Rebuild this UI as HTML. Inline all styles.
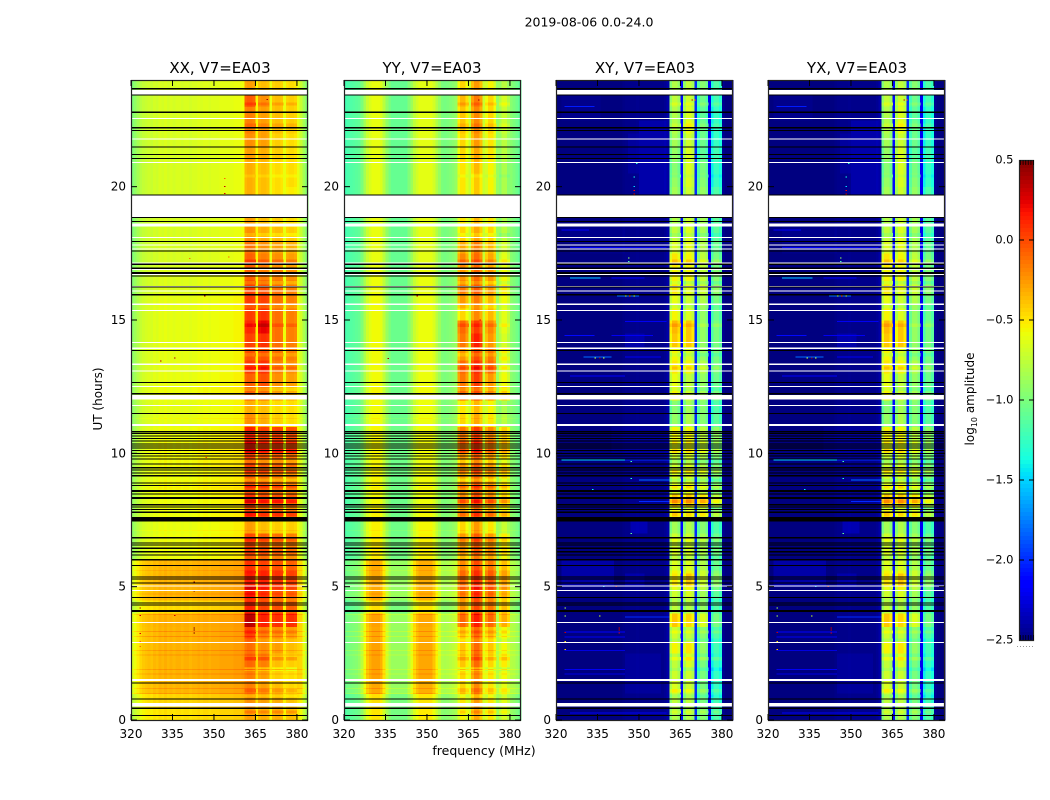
<!DOCTYPE html>
<html lang="en">
<head>
<meta charset="utf-8">
<title>2019-08-06 0.0-24.0</title>
<style>
html,body{margin:0;padding:0;background:#fff;}
svg{display:block;}
text{font-family:"DejaVu Sans","Liberation Sans",sans-serif;fill:#000;}
</style>
</head>
<body>
<svg id="figure" xmlns="http://www.w3.org/2000/svg" width="1050" height="800" viewBox="0 0 1050 800">
  <text x="589" y="26.5" font-size="12.5" text-anchor="middle">2019-08-06 0.0-24.0</text>
  <text x="220" y="73" font-size="15" text-anchor="middle">XX, V7=EA03</text>
  <text x="432" y="73" font-size="15" text-anchor="middle">YY, V7=EA03</text>
  <text x="645" y="73" font-size="15" text-anchor="middle">XY, V7=EA03</text>
  <text x="857" y="73" font-size="15" text-anchor="middle">YX, V7=EA03</text>
  <text x="484" y="755" font-size="12.5" text-anchor="middle">frequency (MHz)</text>
  <text x="102" y="399" font-size="12" text-anchor="middle" transform="rotate(-90 102 399)">UT (hours)</text>
  <text x="974" y="399" font-size="12" text-anchor="middle" transform="rotate(-90 974 399)">log<tspan font-size="8" dy="3">10</tspan><tspan dy="-3"> amplitude</tspan></text>
  <g id="panels"></g>
  <g id="colorbar"></g>
</svg>
<script>
// ---- axis ticks ----
const freqTicks = [320, 335, 350, 365, 380];
const utTicks = [0, 5, 10, 15, 20];
const colorTicks = [0.5, 0.0, -0.5, -1.0, -1.5, -2.0, -2.5];

// ---- channels (MHz, one per column) and time segments (half hours) ----
const freqStart = 320;
const freqEnd = 384;
const utSegmentHours = 0.5;
const subbandStarts = [361, 366, 371, 376];

// ---- base amplitude spectra, log10, channels 320..383 (sub-band channels hold 0) ----
const xxBase = [-.98,-.92,-.85,-.78,-.74,-.72,-.7,-.72,-.68,-.7,-.66,-.68,-.65,-.68,-.66,-.68,-.66,-.66,-.68,-.66,-.66,-.68,-.66,-.66,-.64,-.66,-.64,-.64,-.66,-.64,-.64,-.64,-.62,-.62,-.62,-.62,-.62,-.6,-.6,-.6,-.58,0,0,0,0,-.55,0,0,0,0,-.6,0,0,0,0,-.6,0,0,0,0,-.6,-.72,-.85,-.95];
const yyBase = [-1.2,-1.18,-1.16,-1.14,-1.12,-1.1,-1.0,-.85,-.72,-.65,-.6,-.6,-.6,-.65,-.78,-.92,-1.02,-1.08,-1.08,-1.08,-1.08,-1.08,-1.08,-.98,-.88,-.75,-.68,-.62,-.62,-.62,-.62,-.62,-.68,-.8,-.9,-1.0,-1.02,-1.0,-.98,-.95,-.9,0,0,0,0,-.72,0,0,0,0,-.72,0,0,0,0,-.9,0,0,0,0,-.95,-1.0,-1.05,-1.1];
const xyBase = [-2.5,-2.5,-2.5,-2.5,-2.5,-2.5,-2.5,-2.5,-2.5,-2.5,-2.5,-2.5,-2.5,-2.5,-2.5,-2.5,-2.5,-2.5,-2.5,-2.5,-2.5,-2.5,-2.5,-2.5,-2.48,-2.47,-2.47,-2.47,-2.47,-2.46,-2.47,-2.47,-2.47,-2.47,-2.47,-2.47,-2.47,-2.47,-2.47,-2.45,-2.4,0,0,0,0,-2.1,0,0,0,0,-2.0,0,0,0,0,-2.2,0,0,0,0,-2.45,-2.5,-2.5,-2.5];

// ---- how strongly each channel follows the slow drift ----
const xxDriftShape = [1,1,1,1,1,1,1,1,1,1,1,1,1,1,1,1,1,1,1,1,1,1,1,1,1,1,1,1,1,1,1,1,1,1,1,1,1,1,1,1,1,1,1,1,1,.3,1,1,1,1,.3,1,1,1,1,.3,1,1,1,1,.5,.8,.7,.6];
const yyDriftShape = [.5,.5,.5,.5,.5,.6,.7,.85,1,1,1,1,1,1,.9,.7,.6,.6,.6,.6,.6,.6,.6,.7,.8,.9,1,1,1,1,1,1,.9,.8,.7,.6,.6,.6,.6,.6,.6,1,1,1,1,.3,1,1,1,1,.3,1,1,1,1,.3,1,1,1,1,.5,.6,.6,.6];
const xyDriftShape = [0,0,0,0,0,0,0,0,0,0,0,0,0,0,0,0,0,0,0,0,0,0,0,0,0,0,0,0,0,0,0,0,0,0,0,0,0,0,0,0,0,0,0,0,0,0,0,0,0,0,0,0,0,0,0,0,0,0,0,0,0,0,0,0];

// ---- slow drift per half hour, 0h upward ----
const xxDrift = [.18,.22,.32,.33,.33,.33,.33,.34,.2,.33,.33,.32,.08,.08,.06,.08,.08,.1,.08,.1,.1,.08,.05,.05,.08,.06,.05,.05,.05,.05,.05,.05,.02,.02,0,0,0,0,0,0,0,0,0,0,0,0,0,0];
const yyDrift = [.1,.12,.3,.32,.32,.32,.3,.32,.12,.3,.3,.3,.08,.08,.06,.06,.04,.05,.05,.05,.05,.05,.03,.03,.05,.03,.03,.03,.03,.03,.03,.03,.02,.02,0,0,0,0,0,0,0,0,0,0,0,0,0,0];
const xyDrift = [0,0,0,0,0,0,0,0,0,0,0,0,0,0,0,0,0,0,0,0,0,0,0,0,0,0,0,0,0,0,0,0,0,0,0,0,0,0,0,0,0,0,0,0,0,0,0,0];

// ---- sub-band levels per half hour, 0h upward ----
const xxBand1 = [-.3,-.25,-.2,-.2,-.12,-.15,0,.32,.1,.15,.12,.05,0,-.02,-.3,0,.05,-.05,-.1,0,.1,.1,-.25,-.35,-.1,-.1,.02,-.05,0,.08,.02,.02,0,-.1,-.1,-.15,-.25,-.3,-.3,-.35,-.35,-.35,-.3,-.25,-.2,-.2,-.08,-.3];
const xxBand2 = [-.35,-.3,-.3,-.3,-.2,-.25,-.2,.1,0,.05,.1,0,-.05,-.1,-.4,-.1,-.05,-.1,-.15,-.1,0,0,-.35,-.4,-.15,-.05,.05,-.05,.05,.2,.05,0,-.05,-.2,-.2,-.25,-.35,-.4,-.4,-.4,-.4,-.4,-.35,-.3,-.3,-.3,-.25,-.4];
const xxBand3 = [-.35,-.35,-.4,-.45,-.4,-.3,-.25,.05,-.05,-.05,.05,-.05,-.1,-.15,-.45,-.1,-.05,-.15,-.2,-.1,0,0,-.45,-.5,-.3,-.25,-.2,-.15,-.15,-.15,-.15,-.15,-.15,-.2,-.25,-.3,-.4,-.45,-.45,-.5,-.5,-.5,-.45,-.45,-.4,-.4,-.4,-.45];
const xxBand4 = [-.4,-.42,-.48,-.5,-.45,-.4,-.3,.05,-.1,-.1,0,-.1,-.15,-.2,-.45,-.15,-.1,-.2,-.25,-.15,-.05,-.05,-.5,-.5,-.35,-.3,-.25,-.2,-.2,-.2,-.2,-.2,-.2,-.25,-.3,-.35,-.45,-.5,-.5,-.55,-.5,-.5,-.5,-.5,-.45,-.45,-.45,-.5];
const yyBand1 = [-.58,-.53,-.48,-.48,-.43,-.43,-.43,-.13,-.28,-.18,-.13,-.23,-.28,-.28,-.48,-.28,-.23,-.28,-.33,-.28,-.18,-.18,-.48,-.53,-.13,-.18,-.13,-.28,-.18,-.13,-.48,-.28,-.18,-.28,-.23,-.33,-.48,-.53,-.53,-.53,-.53,-.53,-.48,-.48,-.43,-.43,-.38,-.48];
const yyBand2 = [-.33,-.28,-.23,-.23,-.13,-.13,-.13,.12,-.03,.07,.07,-.03,-.08,-.08,-.28,-.08,-.03,-.08,-.13,-.08,.02,.02,-.33,-.38,-.03,.02,.07,-.03,.12,.02,-.23,-.18,-.08,-.13,-.13,-.18,-.33,-.38,-.38,-.43,-.43,-.38,-.33,-.28,-.23,-.23,-.18,-.28];
const yyBand3 = [-.53,-.53,-.53,-.53,-.48,-.43,-.38,-.13,-.18,-.13,-.08,-.18,-.23,-.28,-.53,-.28,-.23,-.28,-.33,-.28,-.23,-.23,-.53,-.58,-.23,-.28,-.13,-.18,-.28,-.23,-.38,-.38,-.28,-.28,-.33,-.38,-.48,-.53,-.53,-.58,-.58,-.58,-.53,-.53,-.48,-.48,-.48,-.58];
const yyBand4 = [-.7,-.65,-.65,-.6,-.55,-.6,-.6,-.35,-.4,-.35,-.3,-.4,-.5,-.55,-.75,-.5,-.45,-.5,-.5,-.5,-.45,-.45,-.8,-.85,-.45,-.6,-.65,-.55,-.7,-.65,-.65,-.6,-.55,-.6,-.65,-.7,-.8,-.85,-.85,-.85,-.85,-.85,-.8,-.8,-.75,-.75,-.7,-.8];
const xyBand1 = [-.85,-.8,-.7,-.75,-.8,-.6,-.75,-.45,-.8,-.75,-.55,-.7,-.7,-.75,-.9,-.6,-.45,-.7,-.7,-.75,-.65,-.6,-.95,-1,-.6,-.65,-.55,-.6,-.45,-.4,-.6,-.65,-.55,-.6,-.55,-.7,-.8,-.85,-.85,-.9,-.95,-1,-.95,-.9,-.85,-.85,-.8,-.85];
const xyBand2 = [-.85,-.8,-.75,-.75,-.7,-.55,-.8,-.5,-.85,-.7,-.45,-.7,-.7,-.75,-.85,-.65,-.45,-.65,-.7,-.7,-.65,-.6,-.85,-.9,-.75,-.8,-.6,-.7,-.45,-.45,-.7,-.75,-.65,-.6,-.6,-.65,-.7,-.75,-.75,-.75,-.7,-.7,-.7,-.75,-.65,-.7,-.75,-.8];
const xyBand3 = [-1,-1.05,-1.05,-1.05,-1.05,-.95,-1,-.7,-.95,-.9,-.75,-.85,-.85,-.9,-1,-.7,-.55,-.8,-.8,-.85,-.8,-.8,-1,-1,-.9,-.95,-.85,-.95,-.95,-.95,-.95,-.85,-.75,-.8,-.8,-.85,-.9,-.9,-.9,-.95,-1,-1.05,-1.15,-1.1,-1.1,-1.15,-1.1,-1];
const xyBand4 = [-1.2,-1.25,-1.3,-1.3,-1.3,-1.25,-1.2,-1.05,-1.2,-1.15,-.95,-1.1,-1.05,-1.1,-1.2,-.95,-.8,-1,-1,-1,-1,-.95,-1.15,-1.2,-1.05,-1.1,-1.05,-1.05,-1.05,-1.05,-1.1,-1.05,-.95,-1,-1.05,-1.1,-1.15,-1.15,-1.15,-1.2,-1.3,-1.3,-1.25,-1.3,-1.3,-1.3,-1.25,-1.2];

// ---- roll-off across the four channels of a sub-band ----
const xxBandEdge = [0,.03,.03,0];
const yyBandEdge = [-.1,.03,.03,-.1];
const xyBandEdge = [-.12,.05,.05,-.06];

// ---- brighter/dimmer integrations: UT hour, change in log10 amplitude ----
const autoRowUT = [3.31,3.14,2.61,2.43,1.9,1.72,1.19,1.0,4.72,3.95,5.6,11.3,9.15,8.7,7.1];
const autoRowDelta = [.12,.12,.1,.1,.1,.1,.1,.1,.08,.1,.06,.06,.08,.06,.05];

// ---- sub-band stripes: UT hour, change in log10 amplitude ----
const bandStripeUT = [10.4,10.1,9.7,9.3,9.0,8.75,8.2,7.95,7.7,6.75,6.1,5.55,4.95,4.5,3.3,3.0,2.3,1.9,1.1,.9,.3,12.4,13.2,13.7,14.8,15.5,16.4,17.2,18.2,20.4,22.3,23.1];
const bandStripeDelta = [.1,.15,-.15,.15,-.15,.15,.2,-.1,.15,.1,-.1,.1,.1,-.1,.12,-.1,.15,-.12,.12,-.1,.12,-.12,.12,-.1,.1,-.08,-.15,.12,-.1,-.06,.08,.1];

// ---- diffuse cross-hand patches: UT from, UT to, MHz from, MHz to, change ----
const xyPatches = [
  [19.7,22.6,350,360,.08],[20.5,22,346,350,.05],[22.6,23.4,322,336,.03],[13.9,14.4,345,352,.08],
  [4.9,5.95,322,341,.1],[4.9,5.5,345,352,.08],[6.9,7.3,347,353,.1],[0.9,2.6,345,358,.04],
  [10.2,11,340,360,.04],[17.5,18.4,325,345,.03]
];

// ---- narrow cross-hand streaks: UT, MHz from, MHz to, log10 amplitude ----
const xyStreaks = [
  [9.75,322,345,-1.5],[9.75,345,361,-2.0],[17.72,325,360,-2.2],[16.57,325,336,-1.5],[16.57,340,352,-2.15],
  [13.62,330,340,-1.8],[13.62,345,358,-2.2],[15.9,342,350,-1.8],[8.2,350,361,-2.0],[9.0,350,361,-1.8],
  [3.87,345,361,-2.0],[3.3,323,345,-2.15],[3.12,323,345,-2.2],[2.6,323,345,-2.25],[1.9,323,345,-2.2],
  [1.72,323,345,-2.25],[14.42,323,334,-2.1],[14.42,340,355,-2.2],[14.95,345,360,-2.2],[12.9,325,345,-2.15],
  [16.9,345,361,-2.1],[23.0,323,334,-2.05],[18.38,322,332,-2.15],[0.27,325,360,-2.2],[0.6,322,345,-2.25]
];

// ---- isolated bright samples: UT, MHz, log10 amplitude ----
const xxSpecks = [
  [23.27,369,.4],[20,353.7,.3],[19.75,353.7,.25],[20.3,353.7,-.1],[13.46,330.5,.35],[13.57,335.6,.35],
  [15.9,346.4,.45],[17.3,341,-.15],[17.36,355,-.1],[4.2,323,.3],[4.08,323,.3],[3.92,323,.3],[3.92,335.6,.3],
  [3.45,342.6,.5],[3.37,342.6,.5],[3.26,342.6,.5],[3.25,323,.25],[2.95,323,-.1],[2.75,323,-.1],[4.83,342.6,.5],[5.17,342.6,.5],
  [9.85,347,.0],[7.55,347,.0]
];
const yySpecks = [[23.25,368.5,.4],[15.9,346.3,.3],[13.56,335.7,.4],[15.0,369,.2]];
const xySpecks = [
  [23.25,369,.3],[23.25,370,0],[20.86,349,-1.3],[20.36,348,-1.4],[20,348,-1.5],[19.85,348,.2],[19.72,348,.3],
  [17.32,346,-.9],[17.2,346,-1.2],[13.57,335.5,.4],[13.57,334,-.7],[13.57,337,-.7],[15.9,346.4,.0],[15.9,345,-.8],[15.9,348,-.8],
  [9.7,347,-1.2],[9.05,347,-1.3],[8.65,333,-1.4],[7.6,347,-1.3],[7,347,-1.1],[5,337,-1.5],[5,341.5,.3],
  [4.2,323,-.8],[4.07,323,-.7],[3.9,323,-.8],[3.9,335.5,-.7],[3.28,323,.3],[3.45,342.6,.3],[3.37,342.6,.3],[3.26,342.6,.3],[2.95,323,-.5],[2.65,323,-.4]
];

// ---- flagged integrations: UT centre, duration in hours (black) ----
const blackFlags = [
  [23.67,.06],[23.43,.04],[22.79,.04],[22.21,.04],[22.11,.04],[21.48,.04],[21.21,.04],[21.06,.04],[19.69,.04],[18.85,.04],[18.69,.04],
  [17.95,.04],[17.58,.04],[17.09,.04],[16.94,.04],[16.76,.08],[16.65,.04],[16.23,.04],[15.94,.06],[13.86,.04],[12.66,.04],[12.23,.06],[11.49,.04],
  [10.81,.04],[10.74,.04],[10.65,.04],[10.55,.04],[10.47,.04],[10.35,.04],[10.28,.04],[10.2,.04],[10.11,.04],[10,.04],[9.9,.04],[9.79,.04],
  [9.6,.04],[9.46,.05],[9.38,.04],[9.27,.04],[9.16,.04],[8.88,.04],[8.79,.04],[8.59,.07],[8.48,.04],[8.35,.04],[8.31,.04],[8.07,.05],[7.99,.04],[7.9,.04],[7.79,.04],
  [7.53,.175],[6.84,.05],[6.64,.04],[6.57,.04],[6.44,.04],[6.31,.04],[6.19,.04],[6.01,.07],[5.8,.04],[5.37,.04],[5.28,.04],[5.14,.04],
  [4.6,.04],[4.39,.04],[4.32,.04],[4.09,.07],[1.38,.04],[.78,.04],[.44,.04],[.17,.04]
];

// ---- gaps without data: UT from, UT to (white) ----
const whiteGaps = [
  [23.44,23.625],[22.54,22.58],[21.76,21.8],[20.89,20.93],[18.86,19.68],[18.5,18.62],[18.08,18.12],[17.79,17.83],[17.64,17.68],
  [17.11,17.15],[16.88,16.92],[16.69,16.73],[16.06,16.1],[16.23,16.27],[15.57,15.61],[15.34,15.38],[14.14,14.18],[13.92,13.96],
  [13.32,13.36],[13.06,13.1],[12.49,12.53],[12.01,12.19],[11.78,11.82],[11.03,11.1],[5.01,5.05],[4.84,4.88],[3.64,3.68],[2.89,2.93],
  [1.46,1.54],[.51,.64]
];

// ---- panels ----
const xxBands = [xxBand1, xxBand2, xxBand3, xxBand4];
const yyBands = [yyBand1, yyBand2, yyBand3, yyBand4];
const xyBands = [xyBand1, xyBand2, xyBand3, xyBand4];
const panelSpecs = [
  {key:'xx', left:131, base:xxBase, shape:xxDriftShape, drift:xxDrift, bands:xxBands, edge:xxBandEdge, rows:true, patches:[], streaks:[], specks:xxSpecks},
  {key:'yy', left:344, base:yyBase, shape:yyDriftShape, drift:yyDrift, bands:yyBands, edge:yyBandEdge, rows:true, patches:[], streaks:[], specks:yySpecks},
  {key:'xy', left:556, base:xyBase, shape:xyDriftShape, drift:xyDrift, bands:xyBands, edge:xyBandEdge, rows:false, patches:xyPatches, streaks:xyStreaks, specks:xySpecks},
  {key:'yx', left:768, base:xyBase, shape:xyDriftShape, drift:xyDrift, bands:xyBands, edge:xyBandEdge, rows:false, patches:xyPatches, streaks:xyStreaks, specks:xySpecks}
];

const SVGNS = 'http://www.w3.org/2000/svg';
const plotWidth = 177, plotTop = 80, plotBottom = 720, utMax = 24;
const cbLeft = 1019, cbRight = 1034, cbTop = 160, cbBottom = 640, cbMax = 0.5, cbMin = -2.5;

function yScale(ut){ return plotBottom - (ut / utMax) * (plotBottom - plotTop); }
function xScale(left, mhz){ return left + (mhz - freqStart) / (freqEnd - freqStart) * plotWidth; }
function colorScale(v){ return cbTop + (cbMax - v) / (cbMax - cbMin) * (cbBottom - cbTop); }

function piece(t, pts){
  for (let i = 1; i < pts.length; i++){
    if (t <= pts[i][0]){
      const a = pts[i-1], b = pts[i];
      return a[1] + (b[1]-a[1]) * (t-a[0]) / (b[0]-a[0]);
    }
  }
  return pts[pts.length-1][1];
}
function jet(v){
  const t = Math.max(0, Math.min(1, (v - cbMin) / (cbMax - cbMin)));
  const r = piece(t, [[0,0],[.35,0],[.66,1],[.89,1],[1,.5]]);
  const g = piece(t, [[0,0],[.125,0],[.375,1],[.64,1],[.91,0],[1,0]]);
  const b = piece(t, [[0,.5],[.11,1],[.34,1],[.65,0],[1,0]]);
  return 'rgb(' + Math.round(r*255) + ',' + Math.round(g*255) + ',' + Math.round(b*255) + ')';
}
function shape(tag, attrs, parent){
  const el = document.createElementNS(SVGNS, tag);
  for (const k in attrs) el.setAttribute(k, attrs[k]);
  parent.appendChild(el);
  return el;
}
function cellValue(p, col, seg){
  const mhz = freqStart + col;
  for (let b = 0; b < subbandStarts.length; b++){
    const offset = mhz - subbandStarts[b];
    if (offset >= 0 && offset < p.edge.length){
      return p.bands[b][seg] + p.edge[offset];
    }
  }
  return p.base[col] + p.shape[col] * p.drift[seg];
}
function patchDelta(p, col, ut){
  const mhz = freqStart + col;
  let d = 0;
  for (const q of p.patches){
    if (ut >= q[0] && ut < q[1] && mhz >= q[2] && mhz < q[3]) d += q[4];
  }
  return d;
}

const panelsRoot = document.getElementById('panels');
const colCount = freqEnd - freqStart;
const segCount = Math.round(utMax / utSegmentHours);

for (const p of panelSpecs){
  const g = shape('g', {}, panelsRoot);
  
  
  const heat = shape('g', {'shape-rendering':'crispEdges'}, g);
  
  

  // heatmap cells
  for (let s = 0; s < segCount; s++){
    const ut0 = s * utSegmentHours, ut1 = ut0 + utSegmentHours;
    for (let c = 0; c < colCount; c++){
      const x0 = xScale(p.left, freqStart + c), x1 = xScale(p.left, freqStart + c + 1);
      const v = cellValue(p, c, s) + patchDelta(p, c, ut0 + utSegmentHours / 2);
      const cell = shape('rect', {x:x0.toFixed(2), y:yScale(ut1).toFixed(2), width:(x1-x0+.3).toFixed(2), height:(yScale(ut0)-yScale(ut1)+.3).toFixed(2), fill:jet(v)}, heat);
      
      
    }
  }
  // stripes inside the sub-bands
  bandStripeUT.forEach(function(ut, i){
    const seg = Math.min(segCount - 1, Math.floor(ut / utSegmentHours));
    for (const start of subbandStarts){
      for (let k = 0; k < p.edge.length; k++){
        const c = start - freqStart + k;
        const x0 = xScale(p.left, freqStart + c), x1 = xScale(p.left, freqStart + c + 1);
        const stripe = shape('rect', {x:x0.toFixed(2), y:(yScale(ut)-1.6).toFixed(2), width:(x1-x0+.3).toFixed(2), height:3.2, fill:jet(cellValue(p, c, seg) + bandStripeDelta[i])}, heat);
        
        
      }
    }
  });
  // bright integrations in the parallel hands
  if (p.rows){
    autoRowUT.forEach(function(ut, i){
      const seg = Math.min(segCount - 1, Math.floor(ut / utSegmentHours));
      for (let c = 0; c < colCount; c++){
        const x0 = xScale(p.left, freqStart + c), x1 = xScale(p.left, freqStart + c + 1);
        const line = shape('rect', {x:x0.toFixed(2), y:(yScale(ut)-.5).toFixed(2), width:(x1-x0+.3).toFixed(2), height:1, fill:jet(cellValue(p, c, seg) + autoRowDelta[i])}, heat);
        
        
      }
    });
  }
  // cross-hand streaks
  for (const st of p.streaks){
    const streak = shape('rect', {x:xScale(p.left, st[1]).toFixed(2), y:(yScale(st[0])-.5).toFixed(2), width:(xScale(p.left, st[2])-xScale(p.left, st[1])).toFixed(2), height:1, fill:jet(st[3])}, heat);
    
    
  }
  // specks
  for (const sp of p.specks){
    const speck = shape('rect', {x:xScale(p.left, sp[1]).toFixed(2), y:(yScale(sp[0])-.5).toFixed(2), width:1.5, height:1, fill:jet(sp[2])}, heat);
    
    
  }
  // white gaps, then black flagged rows
  for (const gap of whiteGaps){
    const rect = shape('rect', {x:p.left, y:yScale(gap[1]).toFixed(2), width:plotWidth, height:(yScale(gap[0])-yScale(gap[1])).toFixed(2), fill:'#fff'}, heat);
    
    
  }
  for (const fl of blackFlags){
    const rect = shape('rect', {x:p.left, y:yScale(fl[0]+fl[1]/2).toFixed(2), width:plotWidth, height:Math.max(1, yScale(fl[0]-fl[1]/2)-yScale(fl[0]+fl[1]/2)).toFixed(2), fill:'#000'}, heat);
    
    
  }

  // frame
  const frame = shape('rect', {x:p.left+.5, y:plotTop+.5, width:plotWidth-1, height:plotBottom-plotTop, fill:'none', stroke:'#222', 'stroke-width':1.2}, g);
  
  

  // frequency ticks
  for (const f of freqTicks){
    const x = xScale(p.left, f);
    const bottom = shape('line', {x1:x, x2:x, y1:plotBottom, y2:plotBottom-6, stroke:'#000', 'stroke-width':1}, g);
    
    
    const top = shape('line', {x1:x, x2:x, y1:plotTop, y2:plotTop+6, stroke:'#000', 'stroke-width':1}, g);
    
    
    const label = shape('text', {x:x, y:plotBottom+18, 'font-size':12, 'text-anchor':'middle'}, g);
    
    
    label.textContent = String(f);
  }
  // UT ticks
  for (const u of utTicks){
    const y = yScale(u);
    const left = shape('line', {x1:p.left, x2:p.left+6, y1:y, y2:y, stroke:'#000', 'stroke-width':1}, g);
    
    
    const right = shape('line', {x1:p.left+plotWidth, x2:p.left+plotWidth-6, y1:y, y2:y, stroke:'#000', 'stroke-width':1}, g);
    
    
    const label = shape('text', {x:p.left-5, y:y+4, 'font-size':12, 'text-anchor':'end'}, g);
    
    
    label.textContent = String(u);
  }
}

// ---- colorbar ----
const cbRoot = document.getElementById('colorbar');
const cbSteps = 120;
const cbRamp = shape('g', {'shape-rendering':'crispEdges'}, cbRoot);


for (let i = 0; i < cbSteps; i++){
  const vHi = cbMax - (cbMax - cbMin) * i / cbSteps;
  const vLo = cbMax - (cbMax - cbMin) * (i + 1) / cbSteps;
  const step = shape('rect', {x:cbLeft, y:colorScale(vHi).toFixed(2), width:cbRight-cbLeft, height:(colorScale(vLo)-colorScale(vHi)+.4).toFixed(2), fill:jet((vHi+vLo)/2)}, cbRamp);
  
  
}
const cbFrame = shape('rect', {x:cbLeft+.5, y:cbTop+.5, width:cbRight-cbLeft-1, height:cbBottom-cbTop, fill:'none', stroke:'#222', 'stroke-width':1.2}, cbRoot);


for (const v of colorTicks){
  const y = colorScale(v);
  const edgeTick = (v === cbMax || v === cbMin);
  if (!edgeTick){
    const l = shape('line', {x1:cbLeft, x2:cbLeft+5, y1:y, y2:y, stroke:'#000', 'stroke-width':1}, cbRoot);
    
    
    const r = shape('line', {x1:cbRight, x2:cbRight-5, y1:y, y2:y, stroke:'#000', 'stroke-width':1}, cbRoot);
    
    
  }
  const label = shape('text', {x:1013.5, y:y+3.5, 'font-size':11.5, 'text-anchor':'end'}, cbRoot);
  
  
  label.textContent = v.toFixed(1).replace('-', '\u2212');
}
// end-cap tick clusters on the colorbar
for (let i = 0; i < 6; i++){
  const x = cbLeft + 1.5 + i * 2.6;
  const t = shape('line', {x1:x, x2:x, y1:cbTop, y2:cbTop+5, stroke:'#000', 'stroke-width':1, opacity:.75}, cbRoot);
  
  
  const b = shape('line', {x1:x, x2:x, y1:cbBottom, y2:cbBottom-5, stroke:'#000', 'stroke-width':1, opacity:.75}, cbRoot);
  
  
}
const cbDots = shape('line', {x1:1017, x2:1035, y1:646.5, y2:646.5, stroke:'#999', 'stroke-width':1, 'stroke-dasharray':'1 2'}, cbRoot);


</script>
</body>
</html>
